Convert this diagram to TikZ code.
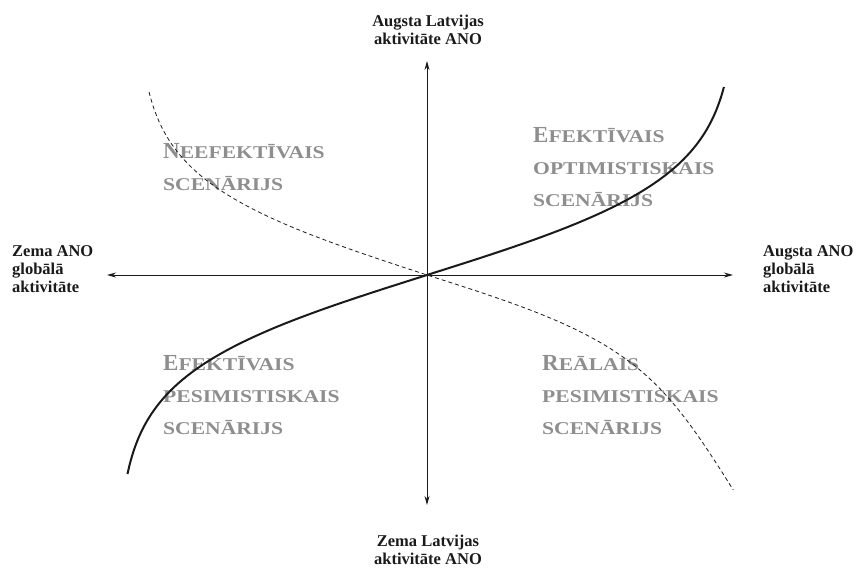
\documentclass[tikz,border=0pt]{standalone}
\usepackage{fontspec}
\setmainfont{Liberation Serif}
\newfontfamily\scwide[FakeStretch=1.2]{Liberation Serif}
\usepackage{xcolor}
\definecolor{scink}{HTML}{1A1A1A}
\definecolor{scgrey}{HTML}{8E8E8E}
\usepackage{tikz}
\usetikzlibrary{arrows.meta}
\newcommand{\scbig}[1]{{\rmfamily\fontsize{23}{23}\selectfont #1}}
\tikzset{
  scaxis/.style  ={{Stealth[length=9pt,width=5pt]}-{Stealth[length=9pt,width=5pt]},
                   line width=0.9pt, draw=scink},
  scsolid/.style ={line width=2pt, draw=scink},
  scdash/.style  ={line width=0.8pt, draw=scink, dash pattern=on 4pt off 3pt},
  sclbl/.style   ={font=\bfseries\fontsize{16.5}{17.7}\selectfont, text=scink,
                   inner sep=0pt},
  scquad/.style  ={font=\scwide\bfseries\fontsize{18}{32}\selectfont, text=scgrey,
                   align=left, inner sep=0pt, anchor=base west},
}

\begin{document}
\begin{tikzpicture}[x=1pt, y=-1pt]
  \useasboundingbox (0,0) rectangle (857,568);
  % axes
  \coordinate (west)  at (107,275);
  \coordinate (east)  at (733,275);
  \coordinate (north) at (427,61);
  \coordinate (south) at (427,505);
  % scenario texts (under the curves), anchored on their last line
  \node[scquad] (neef) at (163,190) {\scbig{N}EEFEKTĪVAIS\\SCENĀRIJS};
  \node[scquad] (efop) at (533,206) {\scbig{E}FEKTĪVAIS\\OPTIMISTISKAIS\\SCENĀRIJS};
  \node[scquad] (efpe) at (163,434) {\scbig{E}FEKTĪVAIS\\PESIMISTISKAIS\\SCENĀRIJS};
  \node[scquad] (repe) at (542,434) {\scbig{R}EĀLAIS\\PESIMISTISKAIS\\SCENĀRIJS};
  \draw[scaxis] (west) -- (east);
  \draw[scaxis] (south) -- (north);
  % curves
  \draw[scsolid] plot[domain=-199:188, samples=120, variable=\v]
    ({427+310*tanh(\v/98)}, {275-\v});
  \draw[scdash] plot[domain=183:-215, samples=140, variable=\v]
    ({427+(\v>0 ? -290*tanh(\v/95) : 178*tanh(-\v/70)-0.6*\v)}, {275-\v});
  % axis labels
  \node[sclbl, align=center, anchor=base] (ytop) at (428,44)
       {Augsta Latvijas\\aktivitāte ANO};
  \node[sclbl, align=center, anchor=base] (ybot) at (428,564)
       {Zema Latvijas\\aktivitāte ANO};
  \node[sclbl, align=left, anchor=base west] (xleft) at (12,292)
       {Zema ANO\\globālā\\aktivitāte};
  \node[sclbl, align=left, anchor=base west] (xright) at (763,292)
       {Augsta ANO\\globālā\\aktivitāte};
\end{tikzpicture}
\end{document}
